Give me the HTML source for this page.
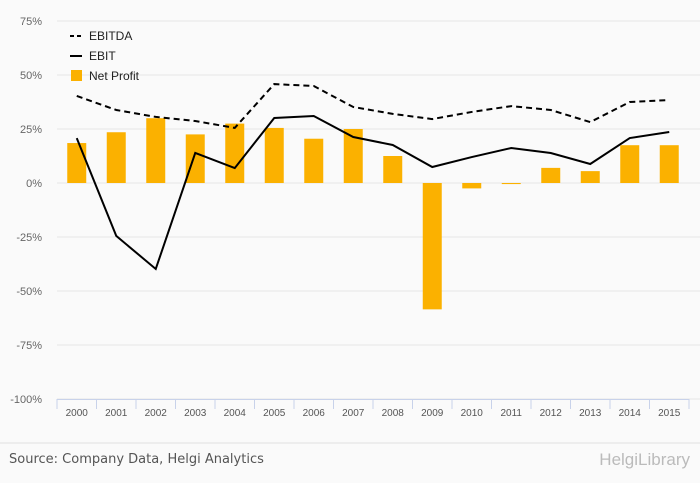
<!DOCTYPE html>
<html><head><meta charset="utf-8"><style>
body{margin:0;background:#fafafa;font-family:"Liberation Sans",sans-serif;}
svg{display:block}
</style></head><body>
<svg id="chart" width="700" height="483">
<rect x="0" y="0" width="700" height="483" fill="#fafafa"/>
<g id="grid"></g><g id="bars"></g><g id="lines"></g><g id="axis"></g>
<g>
<line x1="70" y1="36" x2="82" y2="36" stroke="#000" stroke-width="2" stroke-dasharray="4,3"/>
<text x="89" y="40" font-size="12" fill="#222">EBITDA</text>
<line x1="70" y1="56" x2="82" y2="56" stroke="#000" stroke-width="2"/>
<text x="89" y="60" font-size="12" fill="#222">EBIT</text>
<rect x="71" y="70" width="11" height="11" fill="#fbb100"/>
<text x="89" y="80" font-size="12" fill="#222">Net Profit</text>
</g>
<line x1="0" y1="443" x2="700" y2="443" stroke="#e0e0e0"/>
<text x="9" y="463" font-size="13" fill="#555" font-family="DejaVu Sans, sans-serif">Source: Company Data, Helgi Analytics</text>
<text x="690" y="465" font-size="17" fill="#bbb" text-anchor="end">HelgiLibrary</text>
</svg>
<script>
const categories=["2000","2001","2002","2003","2004","2005","2006","2007","2008","2009","2010","2011","2012","2013","2014","2015"];
const netProfit=[18.5,23.5,30,22.5,27.5,25.5,20.5,25,12.5,-58.5,-2.5,-0.5,7,5.5,17.5,17.5];
const ebitda=[40.3,33.8,30.6,28.7,25.5,45.8,44.9,35.2,32,29.6,32.9,35.6,33.8,28.2,37.5,38.4];
const ebit=[20.8,-24.5,-39.8,13.9,6.9,30.1,31,21.3,17.6,7.4,12,16.2,13.9,8.8,20.8,23.6];
const yTicks=[75,50,25,0,-25,-50,-75,-100];
const NS="http://www.w3.org/2000/svg";
const x0=57,x1=689,step=(x1-x0)/categories.length;
const xc=i=>x0+step*(i+0.5);
const y=v=>183-v*54/25;
function mk(t,a,p){const e=document.createElementNS(NS,t);for(const k in a)e.setAttribute(k,a[k]);p.appendChild(e);return e;}
const grid=document.getElementById('grid'),bars=document.getElementById('bars'),lines=document.getElementById('lines'),axis=document.getElementById('axis');
yTicks.forEach(t=>{
 const l=mk('line',{x1:57,x2:700,y1:y(t),y2:y(t),stroke:'#e6e6e6'},grid);
 
 
 const tx=mk('text',{x:42,y:y(t)+4,'font-size':11,fill:'#666','text-anchor':'end'},axis);
 tx.textContent=t+'%';
 
 
});
const ax=mk('line',{x1:x0,x2:x1,y1:399.5,y2:399.5,stroke:'#c8d2ea'},axis);


categories.forEach((c,i)=>{
 const tk=mk('line',{x1:x0+step*i,x2:x0+step*i,y1:399,y2:409,stroke:'#c8d2ea'},axis);
 
 
 const tx=mk('text',{x:xc(i),y:416,'font-size':10,fill:'#555','text-anchor':'middle'},axis);
 tx.textContent=c;
 
 
 const v=netProfit[i];
 const b=mk('rect',{x:xc(i)-9.5,width:19,y:Math.min(y(v),y(0)),height:Math.abs(y(v)-y(0)),fill:'#fbb100'},bars);
 
 
});
const endT=mk('line',{x1:x1,x2:x1,y1:399,y2:409,stroke:'#c8d2ea'},axis);


const p1=mk('polyline',{points:ebitda.map((v,i)=>xc(i)+','+y(v)).join(' '),fill:'none',stroke:'#000','stroke-width':2,'stroke-dasharray':'6,4'},lines);


const p2=mk('polyline',{points:ebit.map((v,i)=>xc(i)+','+y(v)).join(' '),fill:'none',stroke:'#000','stroke-width':2},lines);


</script>
</body></html>
